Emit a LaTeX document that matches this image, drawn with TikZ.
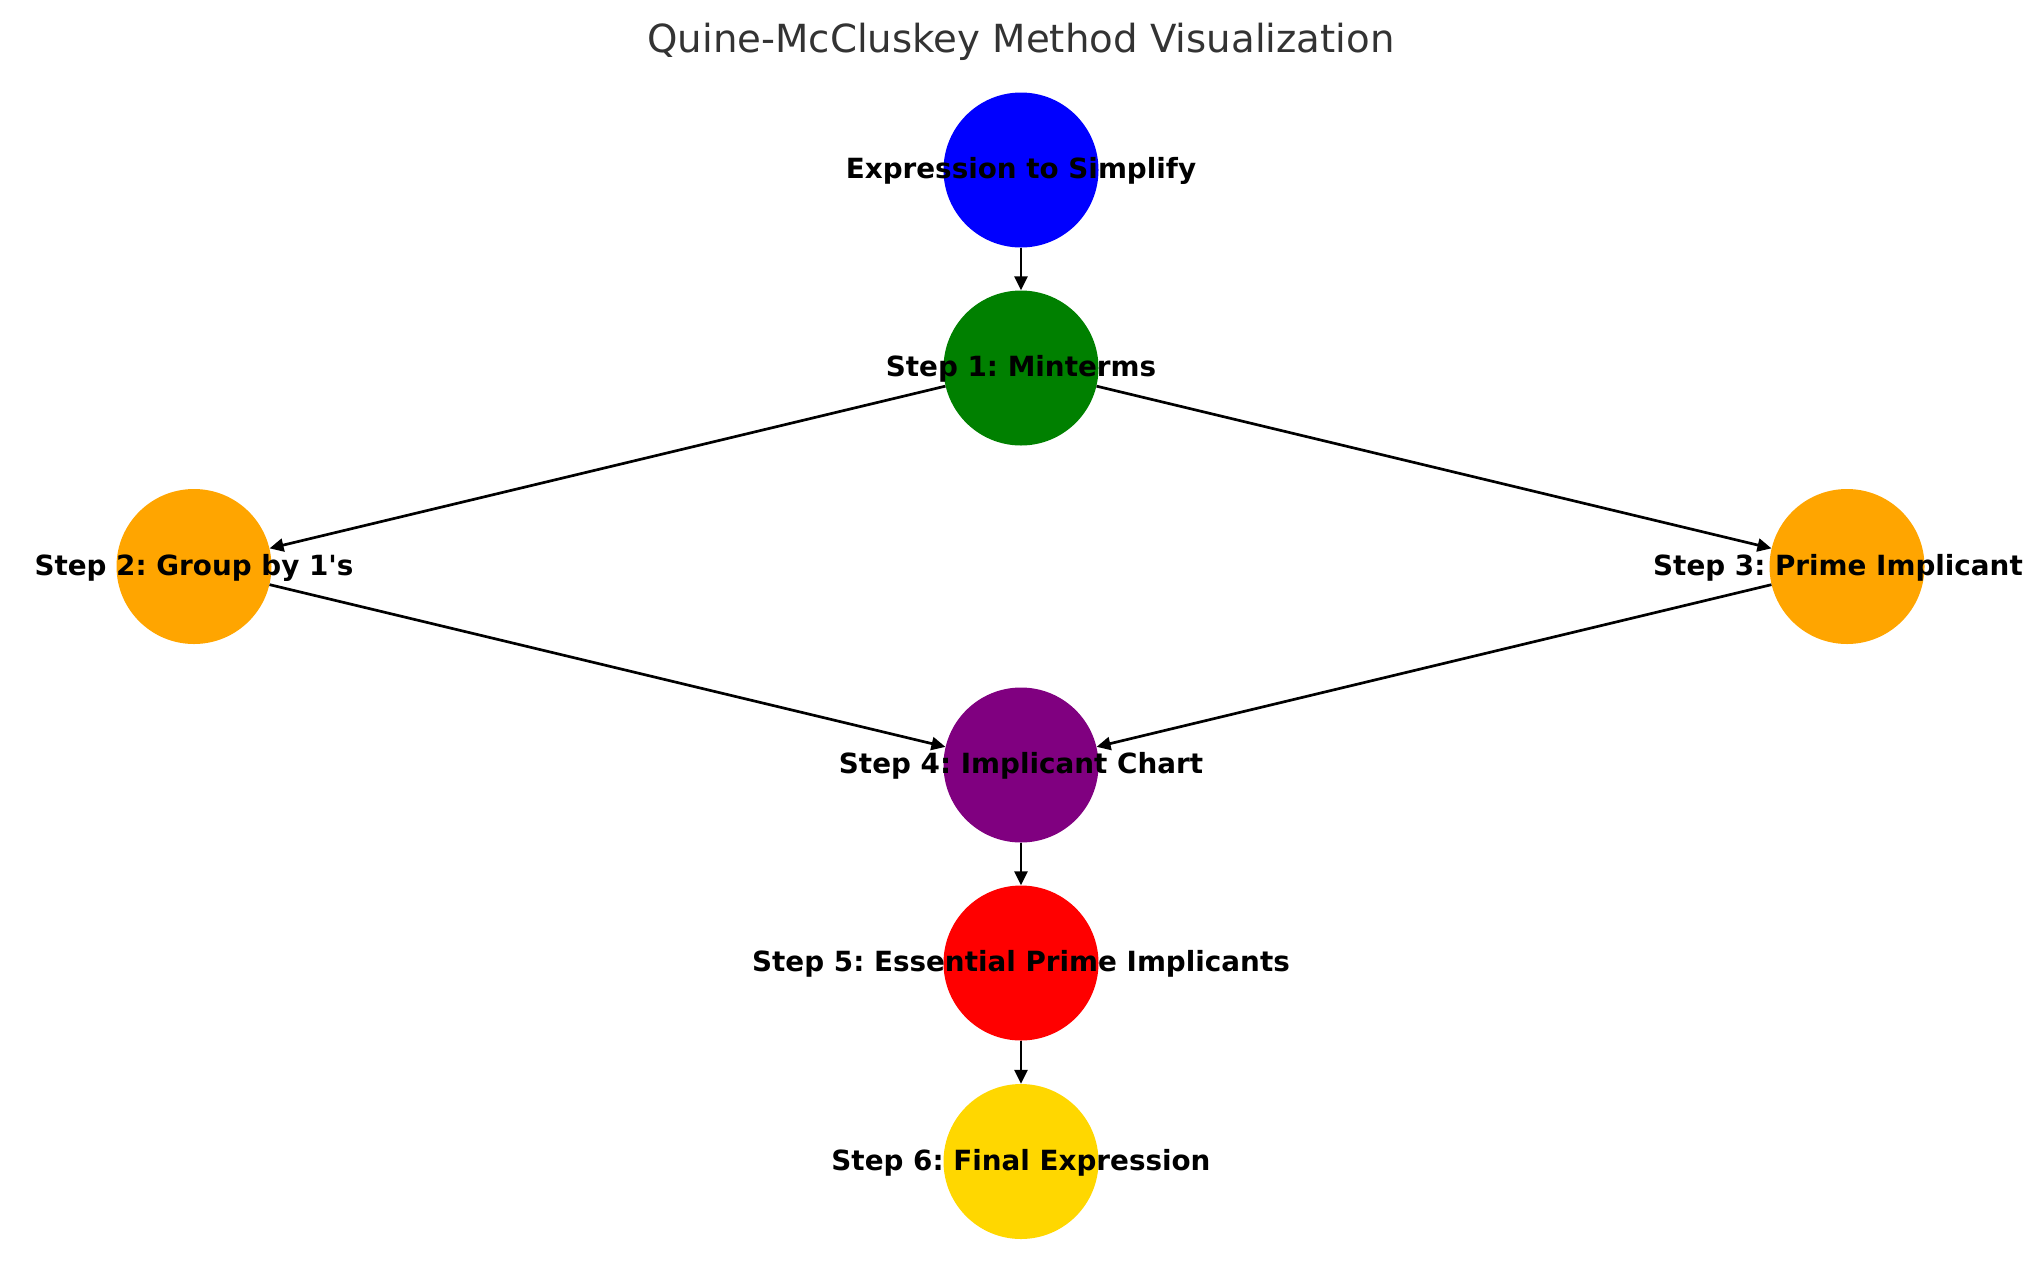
\documentclass[tikz,border=0pt]{standalone}
\usepackage{fontspec}
\setmainfont{DejaVu Sans}
\usetikzlibrary{arrows.meta}
\frenchspacing
\definecolor{cblue}{HTML}{0000FF}
\definecolor{cgreen}{HTML}{008000}
\definecolor{corange}{HTML}{FFA500}
\definecolor{cpurple}{HTML}{800080}
\definecolor{cred}{HTML}{FF0000}
\definecolor{cgold}{HTML}{FFD700}
\definecolor{ctitle}{HTML}{333333}
\begin{document}
\begin{tikzpicture}[x=1pt,y=-1pt,
  disc/.style={circle,draw=none,minimum size=155pt,inner sep=0pt},
  lab/.style={font=\fontsize{27.8}{33}\selectfont\bfseries,text=black,inner sep=0pt,anchor=base},
  conn/.style={line width=2.7pt,-{Triangle[width=13pt,length=14pt]}}]
\useasboundingbox (0,0) rectangle (2039,1286);
\node[font=\fontsize{38.7}{46}\selectfont,text=ctitle,anchor=base,inner sep=0pt] (title) at (1021,52) {Quine-McCluskey Method Visualization};
\node[disc,fill=cblue] (n0) at (1021,170) {};
\node[disc,fill=cgreen] (n1) at (1021,368) {};
\node[disc,fill=corange] (n2) at (194,566.5) {};
\node[disc,fill=corange] (n3) at (1847,566.5) {};
\node[disc,fill=cpurple] (n4) at (1021,765) {};
\node[disc,fill=cred] (n5) at (1021,963) {};
\node[disc,fill=cgold] (n6) at (1021,1161.5) {};
\draw[conn] (n0) -- (n1);
\draw[conn] (n1) -- (n2);
\draw[conn] (n1) -- (n3);
\draw[conn] (n2) -- (n4);
\draw[conn] (n3) -- (n4);
\draw[conn] (n4) -- (n5);
\draw[conn] (n5) -- (n6);
\node[lab] (l0) at ([yshift=-8.5pt]n0.center) {Expression to Simplify};
\node[lab] (l1) at ([yshift=-8.5pt]n1.center) {Step 1: Minterms};
\node[lab] (l2) at ([yshift=-8.5pt]n2.center) {Step 2: Group by 1\textquotesingle s};
\node[lab] (l3) at ([xshift=-9pt,yshift=-8.5pt]n3.center) {Step 3: Prime Implicant};
\node[lab] (l4) at ([yshift=-8.5pt]n4.center) {Step 4: Implicant Chart};
\node[lab] (l5) at ([yshift=-8.5pt]n5.center) {Step 5: Essential Prime Implicants};
\node[lab] (l6) at ([yshift=-8.5pt]n6.center) {Step 6: Final Expression};
\end{tikzpicture}
\end{document}
